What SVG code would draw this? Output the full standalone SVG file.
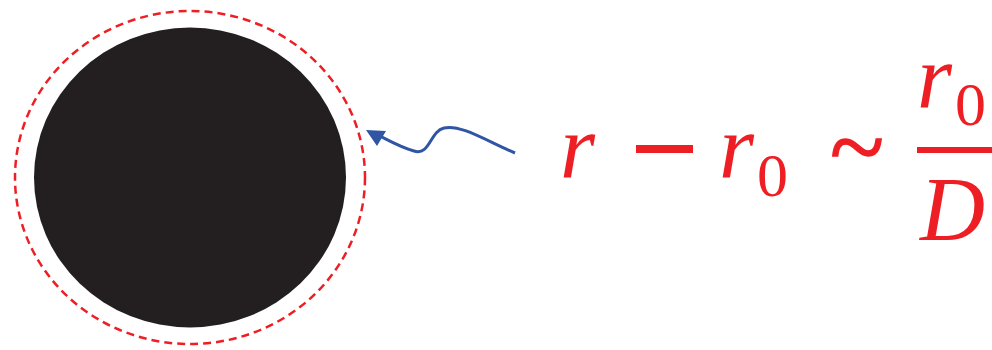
<svg xmlns="http://www.w3.org/2000/svg" width="992" height="350" viewBox="0 0 992 350">
<style>
.m{fill:#ee1f24;font-family:"Liberation Serif",serif}
.i{font-style:italic}
</style>
<rect width="992" height="350" fill="#fff"/>
<g id="particle">
<ellipse cx="190" cy="177.5" rx="156" ry="150" fill="#231f20"/>
</g>
<g id="shell">
<ellipse cx="190" cy="177.5" rx="175" ry="166.5" fill="none" stroke="#ee1f24" stroke-width="2.5" stroke-dasharray="8,5"/>
</g>
<g id="connectors">
<path d="M515,153 C485,140 460,124 444,128 C430,131 430,156 414,151 C400,147 388,140 378,135" fill="none" stroke="#2f55a4" stroke-width="3"/>
<path d="M366,130 L386,131 L377,146 Z" fill="#2f55a4"/>
</g>
<g id="formula">
<text class="m i" x="560" y="177" font-size="90">r</text>
<rect x="636" y="145" width="57" height="8" fill="#ee1f24"/>
<text class="m i" x="719" y="177" font-size="90">r</text>
<text class="m" x="757" y="196" font-size="62">0</text>
<text class="m" x="857" y="180" font-size="100" text-anchor="middle" font-family="Liberation Sans, sans-serif" stroke="#ee1f24" stroke-width="1.5">~</text>
<rect x="917" y="147" width="75" height="6" fill="#ee1f24"/>
<text class="m i" x="917" y="107" font-size="90">r</text>
<text class="m" x="955" y="125" font-size="62">0</text>
<text class="m i" x="920" y="240" font-size="90">D</text>
</g>
</svg>
